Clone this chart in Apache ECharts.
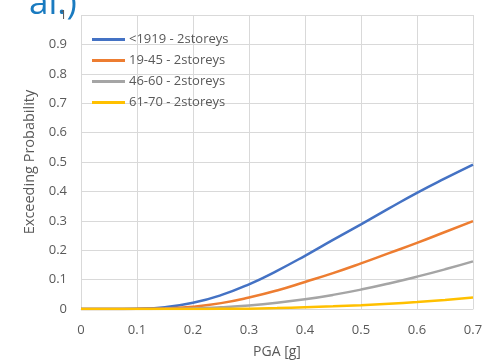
<!DOCTYPE html>
<html>
<head>
<meta charset="utf-8">
<script src="https://cdn.jsdelivr.net/npm/echarts@6/dist/echarts.min.js"></script>
<style>
  html, body { margin: 0; padding: 0; background: #fff; }
  #chart { width: 483px; height: 361px; }
</style>
</head>
<body>
<div id="chart"></div>
<script>
// PGA values [g]
const pga = [0, 0.05, 0.1, 0.15, 0.2, 0.25, 0.3, 0.35, 0.4, 0.45, 0.5, 0.55, 0.6, 0.65, 0.7];

// Exceeding probability for each construction period (2 storeys)
const pre1919 = [0, 0, 0.001, 0.006, 0.021, 0.047, 0.084, 0.13, 0.181, 0.235, 0.288, 0.342, 0.395, 0.444, 0.491];
const p1945 = [0, 0, 0.0005, 0.002, 0.008, 0.02, 0.039, 0.063, 0.092, 0.122, 0.155, 0.19, 0.225, 0.262, 0.299];
const p4660 = [0, 0, 0, 0.0005, 0.002, 0.006, 0.012, 0.021, 0.033, 0.048, 0.066, 0.087, 0.11, 0.135, 0.162];
const p6170 = [0, 0, 0, 0, 0, 0.0005, 0.001, 0.003, 0.006, 0.009, 0.013, 0.018, 0.024, 0.031, 0.039];

const seriesNames = ['<1919 - 2storeys', '19-45 - 2storeys', '46-60 - 2storeys', '61-70 - 2storeys'];
const seriesData = [pre1919, p1945, p4660, p6170];
const colors = ['#4472C4', '#ED7D31', '#A5A5A5', '#FFC000'];

const font = '"Open Sans", "Noto Sans", sans-serif';
const chart = echarts.init(document.getElementById('chart'));

chart.setOption({
  animation: false,
  backgroundColor: '#fff',
  color: colors,
  grid: { left: 81, right: 10, top: 15, bottom: 52, containLabel: false, outerBoundsMode: 'none' },
  graphic: [{
    type: 'text',
    left: 29,
    top: -13,
    style: { text: 'al.)', font: '35px ' + font, fill: '#1A7BC0' }
  }],
  legend: {
    orient: 'vertical',
    left: 92,
    top: 33,
    padding: 0,
    itemWidth: 33,
    itemHeight: 3,
    itemGap: 8,
    icon: 'rect',
    textStyle: { color: '#595959', fontSize: 13, fontFamily: font, padding: [0, 0, 0, -1] },
    data: seriesNames
  },
  xAxis: {
    type: 'value',
    min: 0, max: 0.7, interval: 0.1,
    name: 'PGA [g]',
    nameLocation: 'middle',
    nameGap: 36,
    nameTextStyle: { color: '#595959', fontSize: 14, fontFamily: font },
    axisLine: { show: true, lineStyle: { color: '#D9D9D9', width: 1 } },
    axisTick: { show: false },
    splitLine: { show: true, lineStyle: { color: '#D9D9D9', width: 1 } },
    axisLabel: {
      color: '#595959', fontSize: 13, fontFamily: font, margin: 15,
      formatter: v => String(Math.round(v * 10) / 10)
    }
  },
  yAxis: {
    type: 'value',
    min: 0, max: 1, interval: 0.1,
    name: 'Exceeding Probability',
    nameLocation: 'middle',
    nameGap: 43,
    nameTextStyle: { color: '#595959', fontSize: 14.5, fontFamily: font },
    axisLine: { show: false },
    axisTick: { show: false },
    splitLine: { show: true, lineStyle: { color: '#D9D9D9', width: 1 } },
    axisLabel: {
      color: '#595959', fontSize: 13, fontFamily: font, margin: 14,
      formatter: v => String(Math.round(v * 10) / 10)
    }
  },
  series: seriesNames.map((name, i) => ({
    name,
    type: 'line',
    smooth: true,
    showSymbol: false,
    lineStyle: { width: 2.5, color: colors[i] },
    data: pga.map((x, j) => [x, seriesData[i][j]])
  }))
});
</script>
</body>
</html>
